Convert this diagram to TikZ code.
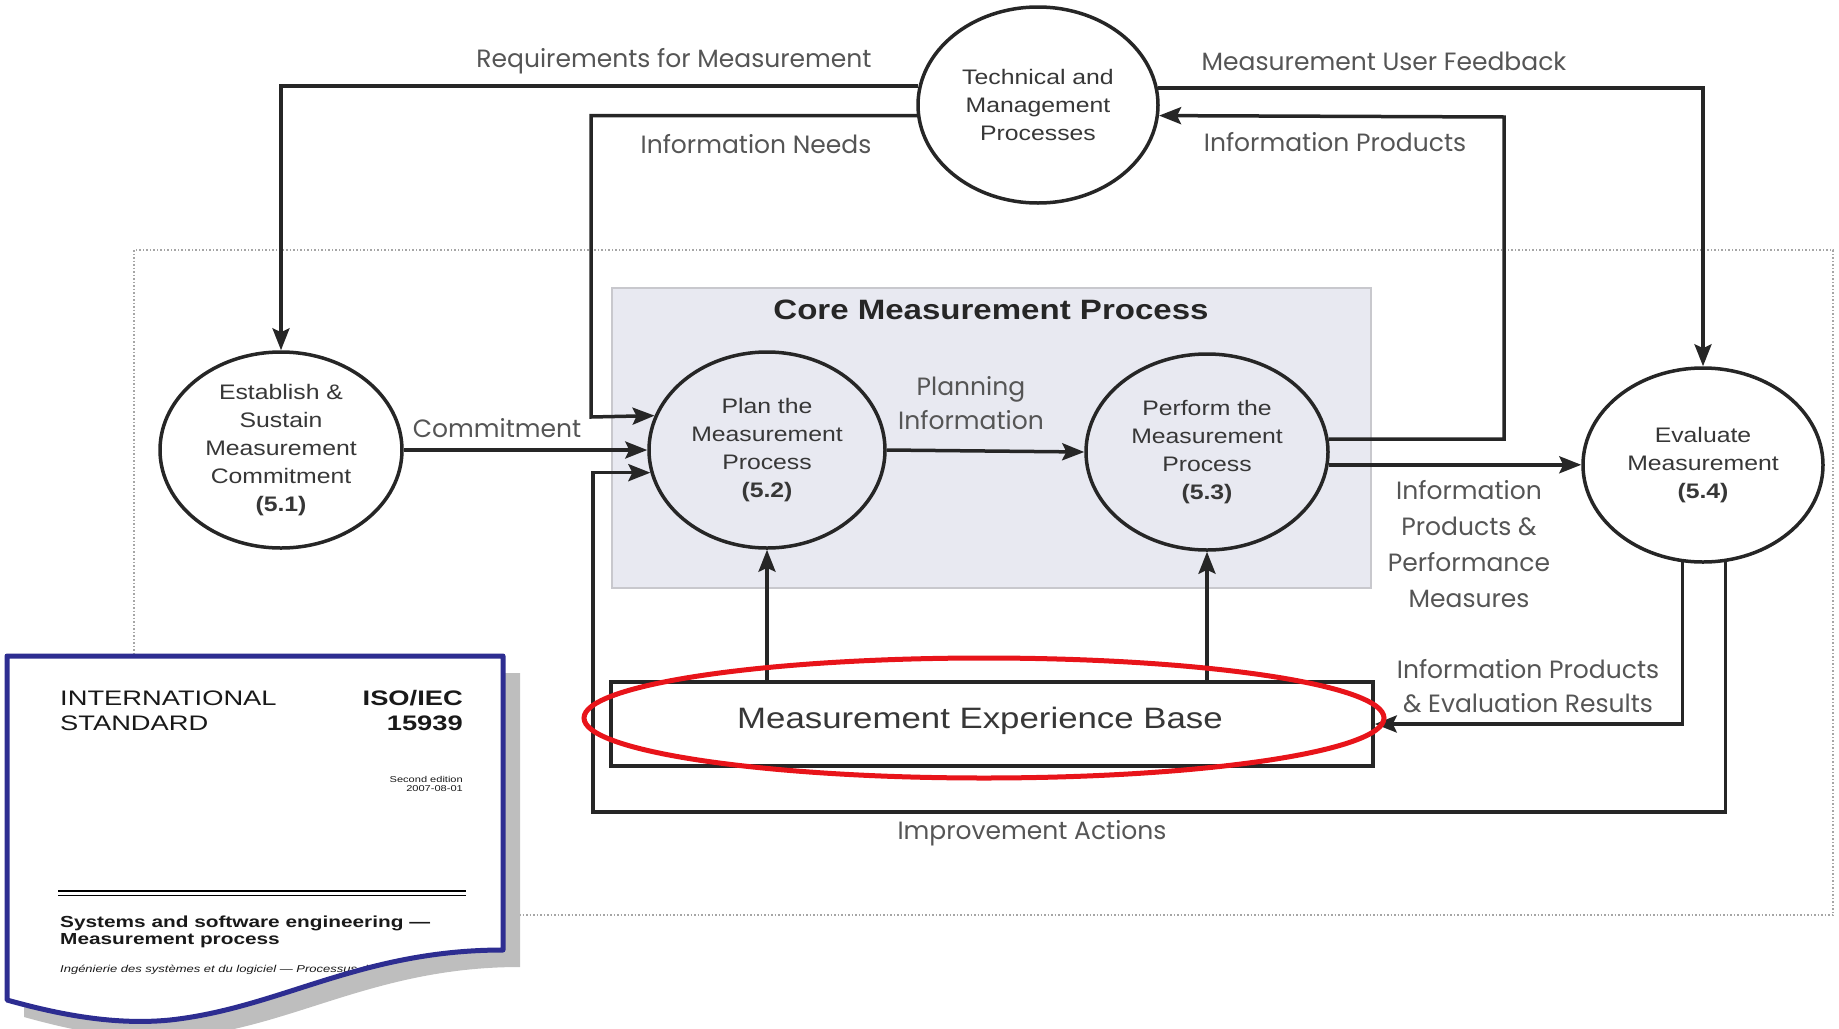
\documentclass[tikz,border=0pt]{standalone}
\usepackage{fontspec}
\setmainfont[FakeStretch=1.18]{Liberation Sans}
\newfontfamily\lblfont{Poppins}
\newfontfamily\docfont[FakeStretch=1.3]{Liberation Sans}
\usetikzlibrary{shapes.geometric,arrows.meta,calc}
\definecolor{txt}{RGB}{55,55,55}
\definecolor{lblc}{RGB}{85,85,85}
\definecolor{corefill}{RGB}{232,233,241}
\definecolor{coreline}{RGB}{200,200,205}
\definecolor{docblue}{RGB}{45,45,145}
\definecolor{shadowgray}{RGB}{190,190,190}
\definecolor{redring}{RGB}{232,20,26}
\tikzset{
  proc/.style={ellipse, draw=black!85, line width=3.5pt, fill=white, inner sep=0pt,
    align=center, font=\fontsize{21}{28}\selectfont, text=txt},
  lbl/.style={font=\lblfont\fontsize{25}{34}\selectfont, text=lblc, align=center, inner sep=0pt},
  arr/.style={line width=3.5pt, draw=black!85, -{Stealth[length=22pt,width=17pt,inset=4pt]}},
  doctxt/.style={inner sep=0pt, text=black!90}
}
\begin{document}
\begin{tikzpicture}[x=1pt,y=-1pt]
\useasboundingbox (0,0) rectangle (1839,1028);
% outer dotted frame
\draw[black!35, line width=1.5pt, dotted] (134,250) rectangle (1833,915);
% core box
\node[draw=coreline, fill=corefill, line width=1.5pt, minimum width=759pt, minimum height=300pt, inner sep=0pt] (core) at (991.5,438) {};
\node[font=\bfseries\fontsize{28}{34}\selectfont, text=black!85, inner sep=0pt] (coretitle) at (991,310) {Core Measurement Process};
% processes
\node[proc, minimum width=240pt, minimum height=196pt] (tech) at (1038,105) {Technical and\\Management\\Processes};
\node[proc, minimum width=242pt, minimum height=196pt] (est) at (281,450) {Establish \&\\Sustain\\Measurement\\Commitment\\\textbf{(5.1)}};
\node[proc, fill=corefill, minimum width=236pt, minimum height=196pt] (plan) at (767,450) {Plan the\\Measurement\\Process\\\textbf{(5.2)}};
\node[proc, fill=corefill, minimum width=242pt, minimum height=196pt] (perf) at (1207,452) {Perform the\\Measurement\\Process\\\textbf{(5.3)}};
\node[proc, minimum width=240pt, minimum height=194pt] (eval) at (1703,465) {Evaluate\\Measurement\\\textbf{(5.4)}};
\node[draw=black!85, line width=3.5pt, fill=white, minimum width=762pt, minimum height=84pt, inner sep=0pt] (meb) at (992,724) {};
\node[font=\fontsize{29.5}{34}\selectfont, text=txt, inner sep=0pt] (meblabel) at (980,721) {Measurement Experience Base};
% corner coordinates
\coordinate (nc) at (591,417);
\coordinate (ia) at (593,812);
\coordinate (ip) at (1504,117);
% connectors
\draw[arr] (tech.171.8) -| (est.north);
\draw[arr] (tech.185.8) -| (nc) -- (plan.163.5);
\draw[arr] (est.east) -- (plan.west);
\draw[arr] (eval.-77.6) |- (ia) |- (plan.191.3);
\draw[arr] (tech.8.2) -| (eval.north);
\draw[arr] (perf.6.2) -| (ip) -- (tech.-5.8);
\draw[arr] (plan.east) -- (perf.west);
\draw[arr] (perf.-6.7) -- (perf.-6.7 -| eval.west);
\draw[arr] (eval.258.8) |- (meb.east);
\draw[arr] (plan.south |- meb.north) -- (plan.south);
\draw[arr] (perf.south |- meb.north) -- (perf.south);
% labels
\node[lbl] (l1) at (674,61) {Requirements for Measurement};
\node[lbl] (l2) at (756,144) {Information Needs};
\node[lbl] (l3) at (1384,61) {Measurement User Feedback};
\node[lbl] (l4) at (1335,142) {Information Products};
\node[lbl] (l5) at (497,428) {Commitment};
\node[lbl] (l6) at (971,403) {Planning\\Information};
\node[lbl, font=\lblfont\fontsize{25}{36}\selectfont] (l7) at (1469,544) {Information\\Products \&\\Performance\\Measures};
\node[lbl] (l8) at (1528,686) {Information Products\\\& Evaluation Results};
\node[lbl] (l9) at (1032,833) {Improvement Actions};
% red highlight ring
\node[ellipse, draw=redring, line width=5pt, minimum width=800pt, minimum height=120pt] (ring) at (984,718) {};
% ISO document
\def\docpath{(7,656) -- (503,656) -- (503,950) .. controls (360,950) and (280,1008) .. (170,1020) .. controls (110,1026) and (50,1012) .. (7,1000) -- cycle}
\fill[shadowgray, shift={(17,17)}] \docpath;
\fill[white] \docpath;
\begin{scope}
\clip \docpath;
\node[doctxt, anchor=base west, font=\docfont\fontsize{21}{25}\selectfont] (d1) at (60,705) {INTERNATIONAL};
\node[doctxt, anchor=base west, font=\docfont\fontsize{21}{25}\selectfont] (d2) at (60,730) {STANDARD};
\node[doctxt, anchor=base east, font=\docfont\bfseries\fontsize{21}{25}\selectfont] (d3) at (463,705) {ISO/IEC};
\node[doctxt, anchor=base east, font=\docfont\bfseries\fontsize{21}{25}\selectfont] (d4) at (463,730) {15939};
\node[doctxt, anchor=base east, font=\docfont\fontsize{8.5}{10}\selectfont] (d5) at (463,782) {Second edition};
\node[doctxt, anchor=base east, font=\docfont\fontsize{8.5}{10}\selectfont] (d6) at (463,791) {2007-08-01};
\draw[black, line width=2.5pt] (58,891) -- (466,891);
\draw[black, line width=1pt] (58,895.5) -- (466,895.5);
\node[doctxt, anchor=base west, font=\docfont\bfseries\fontsize{16}{18}\selectfont] (d7) at (60,927) {Systems and software engineering —};
\node[doctxt, anchor=base west, font=\docfont\bfseries\fontsize{16}{18}\selectfont] (d8) at (60,944) {Measurement process};
\node[doctxt, anchor=base west, font=\docfont\itshape\fontsize{10}{12}\selectfont] (d9) at (60,972) {Ingénierie des systèmes et du logiciel — Processus de mesure};
\end{scope}
\draw[docblue, line width=5pt, line join=round] \docpath;
\end{tikzpicture}
\end{document}
